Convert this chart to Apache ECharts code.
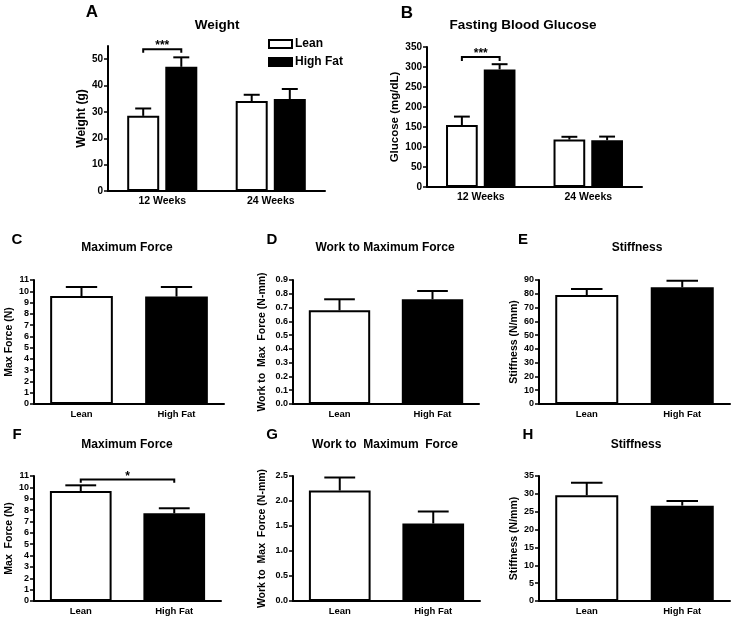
<!DOCTYPE html>
<html>
<head>
<meta charset="utf-8">
<title>Weight, glucose and bone mechanics</title>
<script src="https://cdn.jsdelivr.net/npm/echarts@6/dist/echarts.min.js"></script>
<style>
  html, body { margin: 0; padding: 0; background: #fff; }
  #chart { width: 736px; height: 620px; }
</style>
</head>
<body>
<div id="chart"></div>
<script>
// categories
const weekCats = ['12 Weeks', '24 Weeks'];
const dietCats = ['Lean', 'High Fat'];

// A: body weight (g), mean + SEM
const weightLean = [28.5, 34.1];
const weightLeanSem = [2.8, 2.4];
const weightHF = [47.1, 34.9];
const weightHFSem = [3.6, 3.8];
const weightTicks = [0, 10, 20, 30, 40, 50];
const weightBracket = [0, 0, 53.8, 52.4]; // from cat, to cat, top, foot

// B: fasting blood glucose (mg/dL)
const glucoseLean = [155, 118.5];
const glucoseLeanSem = [21, 7];
const glucoseHF = [294, 117];
const glucoseHFSem = [13, 9];
const glucoseTicks = [0, 50, 100, 150, 200, 250, 300, 350];
const glucoseBracket = [0, 0, 325, 315];

// C-E: first row of mechanics (Lean, High Fat)
const forceC = [9.58, 9.53];
const forceCSem = [0.8, 0.85];
const workD = [0.68, 0.76];
const workDSem = [0.08, 0.06];
const stiffE = [79.1, 84.7];
const stiffESem = [4.4, 4.8];

// F-H: second row
const forceF = [9.68, 7.72];
const forceFSem = [0.5, 0.44];
const workG = [2.21, 1.55];
const workGSem = [0.26, 0.24];
const stiffH = [29.6, 26.7];
const stiffHSem = [3.5, 1.3];
const forceBracket = [0, 1, 10.7, 10.4];

const forceTicks = [0, 1, 2, 3, 4, 5, 6, 7, 8, 9, 10, 11];
const workDTicks = [0, 0.1, 0.2, 0.3, 0.4, 0.5, 0.6, 0.7, 0.8, 0.9];
const stiffETicks = [0, 10, 20, 30, 40, 50, 60, 70, 80, 90];
const workGTicks = [0, 0.5, 1.0, 1.5, 2.0, 2.5];
const stiffHTicks = [0, 5, 10, 15, 20, 25, 30, 35];

const FONT = '"Liberation Sans", Arial, sans-serif';
const WHITE_BAR = { color: '#fff', borderColor: '#000', borderWidth: 2 };
const BLACK_BAR = { color: '#000', borderColor: '#000', borderWidth: 2 };

// grouped bars in A and B
const GROUP_BW = 0.295, GROUP_GAP = 0.19;
const GROUP_OFF = GROUP_BW * (1 + GROUP_GAP) / 2;
// single bars in C-H
const SINGLE_BW = 0.66;

const grids = [
  { left: 108, top: 46, width: 217, height: 145 },  // A
  { left: 427, top: 47, width: 215, height: 140 },  // B
  { left: 34, top: 280, width: 190, height: 124 },  // C
  { left: 293, top: 280, width: 186, height: 124 }, // D
  { left: 539, top: 280, width: 191, height: 124 }, // E
  { left: 34, top: 476, width: 187, height: 125 },  // F
  { left: 293, top: 476, width: 187, height: 125 }, // G
  { left: 539, top: 476, width: 191, height: 125 }  // H
];

const axisLine = { show: true, lineStyle: { color: '#000', width: 2 } };

function xAxis(idx, cats, size) {
  return {
    type: 'category', gridIndex: idx, data: cats,
    axisLine: axisLine, axisTick: { show: false },
    axisLabel: { color: '#000', fontFamily: FONT, fontWeight: 'bold', fontSize: size, margin: 5 },
    splitLine: { show: false }
  };
}

function yAxis(idx, max, ticks, name, gap, digits, size, nameSize) {
  return {
    type: 'value', gridIndex: idx, min: 0, max: max,
    name: name, nameLocation: 'middle', nameGap: gap, nameRotate: 90,
    nameTextStyle: { color: '#000', fontFamily: FONT, fontWeight: 'bold', fontSize: nameSize },
    axisLine: axisLine,
    axisTick: { show: true, length: 4, lineStyle: { color: '#000', width: 1.5 }, customValues: ticks },
    axisLabel: {
      color: '#000', fontFamily: FONT, fontWeight: 'bold', fontSize: size, margin: 5,
      customValues: ticks, formatter: v => v.toFixed(digits)
    },
    splitLine: { show: false }
  };
}

// up-only error bars with caps half the bar width
function errorBars(idx, means, sems, off, bw) {
  return {
    type: 'custom', xAxisIndex: idx, yAxisIndex: idx, z: 5, silent: true,
    data: means.map((m, i) => [i, m, m + sems[i]]),
    encode: { x: 0, y: [1, 2] },
    renderItem(params, api) {
      const band = api.size([1, 0])[0];
      const p0 = api.coord([api.value(0), api.value(1)]);
      const p1 = api.coord([api.value(0), api.value(2)]);
      const x = p0[0] + off * band;
      const half = band * bw / 4;
      return {
        type: 'group', children: [
          { type: 'line', shape: { x1: x, y1: p0[1], x2: x, y2: p1[1] }, style: { stroke: '#000', lineWidth: 2 } },
          { type: 'line', shape: { x1: x - half, y1: p1[1], x2: x + half, y2: p1[1] }, style: { stroke: '#000', lineWidth: 2 } }
        ]
      };
    }
  };
}

// significance bracket with stars
function bracket(idx, b, offFrom, offTo, label) {
  return {
    type: 'custom', xAxisIndex: idx, yAxisIndex: idx, z: 6, silent: true,
    data: [b],
    encode: { x: [0, 1], y: [2, 3] },
    renderItem(params, api) {
      const band = api.size([1, 0])[0];
      const a = api.coord([api.value(0), api.value(2)]);
      const c = api.coord([api.value(1), api.value(2)]);
      const foot = api.coord([api.value(0), api.value(3)])[1];
      const x0 = a[0] + offFrom * band, x1 = c[0] + offTo * band;
      return {
        type: 'group', children: [
          { type: 'polyline', shape: { points: [[x0, foot], [x0, a[1]], [x1, a[1]], [x1, foot]] },
            style: { stroke: '#000', lineWidth: 2, fill: null } },
          { type: 'text', x: (x0 + x1) / 2, y: a[1] + 3,
            style: { text: label, font: 'bold 12px ' + FONT, fill: '#000', align: 'center', verticalAlign: 'bottom' } }
        ]
      };
    }
  };
}

function groupedBars(idx, lean, leanSem, hf, hfSem) {
  return [
    { type: 'bar', name: 'Lean', xAxisIndex: idx, yAxisIndex: idx, data: lean,
      barWidth: (GROUP_BW * 100) + '%', barGap: (GROUP_GAP * 100) + '%', itemStyle: WHITE_BAR, silent: true },
    { type: 'bar', name: 'High Fat', xAxisIndex: idx, yAxisIndex: idx, data: hf,
      barWidth: (GROUP_BW * 100) + '%', barGap: (GROUP_GAP * 100) + '%', itemStyle: BLACK_BAR, silent: true },
    errorBars(idx, lean, leanSem, -GROUP_OFF, GROUP_BW),
    errorBars(idx, hf, hfSem, GROUP_OFF, GROUP_BW)
  ];
}

function singleBars(idx, vals, sems) {
  return [
    { type: 'bar', name: 'panel' + idx, xAxisIndex: idx, yAxisIndex: idx, barWidth: (SINGLE_BW * 100) + '%', silent: true,
      data: vals.map((v, i) => ({ value: v, itemStyle: i === 0 ? WHITE_BAR : BLACK_BAR })) },
    errorBars(idx, vals, sems, 0, SINGLE_BW)
  ];
}

// panel letters and titles
const texts = [
  ['A', 92, 12, 17], ['B', 407, 13, 17], ['C', 17, 240, 15], ['D', 272, 240, 15],
  ['E', 523, 240, 15], ['F', 17, 435, 15], ['G', 272, 435, 15], ['H', 528, 435, 15],
  ['Weight', 217, 25, 13.5], ['Fasting Blood Glucose', 523, 25, 13.5],
  ['Maximum Force', 127, 248, 12], ['Work to Maximum Force', 385, 248, 12], ['Stiffness', 637, 248, 12],
  ['Maximum Force', 127, 445, 12], ['Work to  Maximum  Force', 385, 445, 12], ['Stiffness', 636, 445, 12]
];

const chart = echarts.init(document.getElementById('chart'), null, { renderer: 'canvas' });
chart.setOption({
  animation: false,
  backgroundColor: '#fff',
  grid: grids,
  xAxis: [
    xAxis(0, weekCats, 10.5), xAxis(1, weekCats, 10.5),
    xAxis(2, dietCats, 9.5), xAxis(3, dietCats, 9.5), xAxis(4, dietCats, 9.5),
    xAxis(5, dietCats, 9.5), xAxis(6, dietCats, 9.5), xAxis(7, dietCats, 9.5)
  ],
  yAxis: [
    yAxis(0, 55, weightTicks, 'Weight (g)', 20, 0, 10, 12),
    yAxis(1, 350, glucoseTicks, 'Glucose (mg/dL)', 26, 0, 10, 11.5),
    yAxis(2, 11, forceTicks, 'Max Force (N)', 18, 0, 9, 10.5),
    yAxis(3, 0.9, workDTicks, 'Work to  Max  Force (N-mm)', 25, 1, 9, 10.5),
    yAxis(4, 90, stiffETicks, 'Stiffness (N/mm)', 15, 0, 9, 10.5),
    yAxis(5, 11, forceTicks, 'Max  Force (N)', 18, 0, 9, 10.5),
    yAxis(6, 2.5, workGTicks, 'Work to  Max  Force (N-mm)', 25, 1, 9, 10.5),
    yAxis(7, 35, stiffHTicks, 'Stiffness (N/mm)', 15, 0, 9, 10.5)
  ],
  legend: {
    data: ['Lean', 'High Fat'], orient: 'vertical', left: 268, top: 38, icon: 'rect',
    itemWidth: 23, itemHeight: 8, itemGap: 6, padding: 0,
    textStyle: { color: '#000', fontFamily: FONT, fontWeight: 'bold', fontSize: 12, padding: [0, 0, 0, -2] }
  },
  graphic: texts.map(t => ({
    type: 'text', x: t[1], y: t[2], silent: true,
    style: { text: t[0], font: 'bold ' + t[3] + 'px ' + FONT, fill: '#000', align: 'center', verticalAlign: 'middle' }
  })),
  series: [
    ...groupedBars(0, weightLean, weightLeanSem, weightHF, weightHFSem),
    bracket(0, weightBracket, -GROUP_OFF, GROUP_OFF, '***'),
    ...groupedBars(1, glucoseLean, glucoseLeanSem, glucoseHF, glucoseHFSem),
    bracket(1, glucoseBracket, -GROUP_OFF, GROUP_OFF, '***'),
    ...singleBars(2, forceC, forceCSem),
    ...singleBars(3, workD, workDSem),
    ...singleBars(4, stiffE, stiffESem),
    ...singleBars(5, forceF, forceFSem),
    bracket(5, forceBracket, 0, 0, '*'),
    ...singleBars(6, workG, workGSem),
    ...singleBars(7, stiffH, stiffHSem)
  ]
});
</script>
</body>
</html>
